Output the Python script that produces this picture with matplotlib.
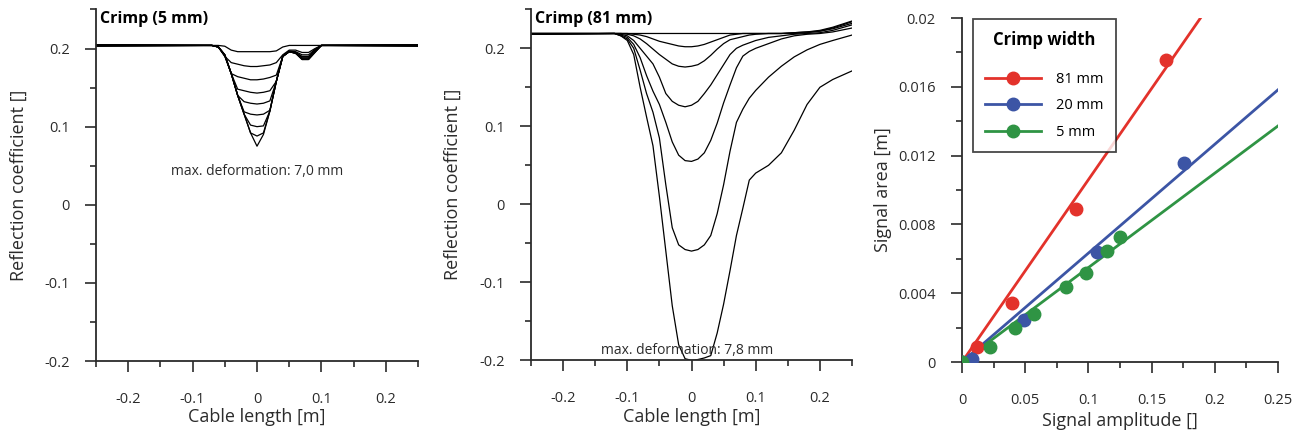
import matplotlib
matplotlib.use("Agg")
import matplotlib.pyplot as plt
from matplotlib.ticker import MultipleLocator, FuncFormatter

plt.rcParams['font.family'] = ['Open Sans', 'DejaVu Sans']
plt.rcParams['axes.unicode_minus'] = False

# --- crimp 5 mm: reflection traces, one row per deformation step ---
x_5mm = [-0.25, -0.07, -0.06, -0.05, -0.04, -0.03, -0.02, -0.01, 0.0, 0.01,
         0.02, 0.03, 0.04, 0.05, 0.06, 0.07, 0.08, 0.09, 0.10, 0.25]
r_5mm = [
    [0.204, 0.204, 0.204, 0.203, 0.198, 0.196, 0.196, 0.196, 0.196, 0.196, 0.196, 0.197, 0.202, 0.204, 0.204, 0.204, 0.204, 0.204, 0.204, 0.204],
    [0.205, 0.204, 0.202, 0.190, 0.182, 0.180, 0.178, 0.177, 0.177, 0.178, 0.179, 0.182, 0.192, 0.198, 0.198, 0.195, 0.195, 0.200, 0.204, 0.205],
    [0.204, 0.204, 0.202, 0.190, 0.168, 0.164, 0.162, 0.160, 0.160, 0.161, 0.163, 0.166, 0.190, 0.197, 0.196, 0.192, 0.192, 0.199, 0.204, 0.204],
    [0.203, 0.204, 0.202, 0.191, 0.168, 0.148, 0.146, 0.144, 0.143, 0.144, 0.146, 0.158, 0.190, 0.196, 0.195, 0.190, 0.190, 0.198, 0.204, 0.203],
    [0.205, 0.204, 0.202, 0.191, 0.168, 0.140, 0.132, 0.130, 0.129, 0.130, 0.133, 0.158, 0.190, 0.196, 0.195, 0.189, 0.189, 0.197, 0.204, 0.205],
    [0.204, 0.204, 0.202, 0.192, 0.168, 0.140, 0.119, 0.116, 0.115, 0.116, 0.121, 0.158, 0.190, 0.196, 0.194, 0.188, 0.188, 0.196, 0.204, 0.204],
    [0.203, 0.204, 0.202, 0.192, 0.168, 0.140, 0.116, 0.102, 0.100, 0.101, 0.120, 0.158, 0.190, 0.196, 0.194, 0.187, 0.187, 0.196, 0.204, 0.203],
    [0.205, 0.204, 0.202, 0.192, 0.168, 0.140, 0.116, 0.092, 0.088, 0.092, 0.120, 0.158, 0.190, 0.196, 0.194, 0.186, 0.186, 0.195, 0.204, 0.205],
    [0.204, 0.204, 0.202, 0.192, 0.168, 0.140, 0.116, 0.092, 0.075, 0.090, 0.120, 0.158, 0.190, 0.196, 0.194, 0.186, 0.186, 0.195, 0.204, 0.204],
]

# --- crimp 81 mm ---
x_81mm = [-0.25, -0.12, -0.11, -0.10, -0.09, -0.08, -0.07, -0.06, -0.05, -0.04,
          -0.03, -0.02, -0.01, 0.0, 0.01, 0.02, 0.03, 0.04, 0.05, 0.06,
          0.07, 0.08, 0.09, 0.10, 0.12, 0.14, 0.16, 0.18, 0.20, 0.22, 0.25]
r_81mm = [
    [0.219, 0.219, 0.219, 0.219, 0.219, 0.219, 0.219, 0.219, 0.219, 0.219,
     0.219, 0.219, 0.219, 0.219, 0.219, 0.219, 0.219, 0.219, 0.219, 0.219,
     0.219, 0.219, 0.219, 0.219, 0.219, 0.219, 0.219, 0.220, 0.222, 0.226, 0.234],
    [0.218, 0.219, 0.219, 0.219, 0.218, 0.217, 0.215, 0.212, 0.209, 0.207,
     0.205, 0.203, 0.202, 0.202, 0.203, 0.205, 0.208, 0.211, 0.214, 0.217,
     0.218, 0.219, 0.219, 0.219, 0.219, 0.219, 0.220, 0.221, 0.223, 0.227, 0.235],
    [0.219, 0.219, 0.219, 0.218, 0.216, 0.212, 0.206, 0.199, 0.192, 0.186,
     0.180, 0.177, 0.176, 0.177, 0.179, 0.184, 0.191, 0.199, 0.206, 0.211,
     0.213, 0.215, 0.217, 0.218, 0.219, 0.219, 0.220, 0.221, 0.222, 0.225, 0.232],
    [0.218, 0.219, 0.218, 0.216, 0.210, 0.200, 0.190, 0.180, 0.163, 0.142,
     0.132, 0.127, 0.125, 0.127, 0.132, 0.142, 0.153, 0.166, 0.179, 0.192,
     0.200, 0.204, 0.207, 0.210, 0.214, 0.216, 0.218, 0.219, 0.220, 0.223, 0.230],
    [0.219, 0.219, 0.217, 0.214, 0.205, 0.188, 0.165, 0.145, 0.128, 0.105,
     0.080, 0.063, 0.056, 0.055, 0.058, 0.066, 0.082, 0.104, 0.130, 0.153,
     0.175, 0.190, 0.196, 0.200, 0.206, 0.212, 0.216, 0.218, 0.219, 0.221, 0.226],
    [0.218, 0.219, 0.216, 0.212, 0.200, 0.172, 0.142, 0.118, 0.085, 0.025,
     -0.030, -0.052, -0.058, -0.060, -0.058, -0.052, -0.040, -0.012, 0.025, 0.068,
     0.105, 0.122, 0.136, 0.146, 0.163, 0.177, 0.189, 0.198, 0.205, 0.210, 0.217],
    [0.219, 0.219, 0.216, 0.210, 0.192, 0.150, 0.112, 0.075, 0.010, -0.060,
     -0.130, -0.180, -0.198, -0.200, -0.199, -0.197, -0.194, -0.165, -0.128, -0.085,
     -0.040, -0.005, 0.031, 0.040, 0.050, 0.066, 0.095, 0.128, 0.150, 0.160, 0.171],
]

# --- signal area vs. amplitude ---
amp_81 = [0.0, 0.0121, 0.0393, 0.090, 0.1614]
area_81 = [0.0, 0.00089, 0.00341, 0.00888, 0.01756]
amp_20 = [0.0, 0.0077, 0.0493, 0.1065, 0.176]
area_20 = [0.0, 0.00016, 0.00244, 0.00638, 0.01155]
amp_5 = [0.0, 0.0222, 0.0419, 0.0572, 0.0823, 0.0979, 0.1145, 0.125]
area_5 = [0.0, 0.00089, 0.00196, 0.00279, 0.00438, 0.00516, 0.00647, 0.00729]
fit_slopes = {'81 mm': 0.106, '20 mm': 0.0633, '5 mm': 0.0549}
fit_x = [0.0, 0.25]

colors = {'81 mm': '#e3322b', '20 mm': '#3c55a5', '5 mm': '#2f9444'}

W, H = 1302, 436
fig = plt.figure(figsize=(W / 100, H / 100), dpi=100)


def px_axes(left, right, top, bottom):
    return fig.add_axes([left / W, 1 - bottom / H, (right - left) / W, (bottom - top) / H])


ax1 = px_axes(96, 418, 9.5, 361)
ax2 = px_axes(531, 852, 9.3, 360.3)
ax3 = px_axes(962, 1278, 18, 362)

ink = '#2b2b2b'
fmt = FuncFormatter(lambda v, pos: f'{v:g}')


def style(ax):
    for s in ('top', 'right'):
        ax.spines[s].set_visible(False)
    for s in ('left', 'bottom'):
        ax.spines[s].set_linewidth(1.3)
        ax.spines[s].set_color(ink)
    ax.tick_params(which='major', direction='out', length=8, width=1.2, color=ink,
                   labelsize=10.5, labelcolor=ink)
    ax.tick_params(which='minor', direction='out', length=4, width=1.2, color=ink)
    ax.tick_params(axis='x', which='major', pad=14)
    ax.tick_params(axis='y', which='major', pad=11)
    ax.xaxis.set_major_formatter(fmt)
    ax.yaxis.set_major_formatter(fmt)


for ax, xs, rows, title, note, note_xy in (
        (ax1, x_5mm, r_5mm, 'Crimp (5 mm)', 'max. deformation: 7,0 mm', (0.0, 0.042)),
        (ax2, x_81mm, r_81mm, 'Crimp (81 mm)', 'max. deformation: 7,8 mm', (-0.007, -0.187))):
    for row in rows:
        ax.plot(xs, row, color='black', lw=0.9)
    ax.set_xlim(-0.25, 0.25)
    ax.set_ylim(-0.2, 0.25)
    ax.xaxis.set_major_locator(MultipleLocator(0.1))
    ax.xaxis.set_minor_locator(MultipleLocator(0.05))
    ax.yaxis.set_major_locator(MultipleLocator(0.1))
    ax.yaxis.set_minor_locator(MultipleLocator(0.05))
    style(ax)
    ax.set_xticks([-0.2, -0.1, 0, 0.1, 0.2])
    ax.set_yticks([-0.2, -0.1, 0, 0.1, 0.2])
    ax.set_xlabel('Cable length [m]', fontsize=13, color=ink)
    ax.set_ylabel('Reflection coefficient []', fontsize=13, color=ink)
    ax.text(0.012, 0.995, title, transform=ax.transAxes, ha='left', va='top',
            fontsize=11.5, fontweight='bold', color='black')
    ax.text(note_xy[0], note_xy[1], note, ha='center', va='center', fontsize=10, color=ink)
    ax.xaxis.set_label_coords(0.5, -0.135)

ax1.yaxis.set_label_coords(-0.211, 0.5)
ax2.yaxis.set_label_coords(-0.215, 0.5)

for label, amp, area in (('81 mm', amp_81, area_81),
                         ('20 mm', amp_20, area_20),
                         ('5 mm', amp_5, area_5)):
    c = colors[label]
    ax3.plot(fit_x, [fit_slopes[label] * v for v in fit_x], color=c, lw=2.0)
    ax3.plot(amp, area, 'o', color=c, markersize=9, zorder=3)

# legend handles show line with a marker in the middle
handles = [plt.Line2D([0], [0], color=colors[k], lw=2.0, marker='o', markersize=9)
           for k in fit_slopes]
leg = ax3.legend(handles, list(fit_slopes), title='Crimp width', loc='upper left',
                 bbox_to_anchor=(0.035, 0.997), borderaxespad=0, fontsize=10.5,
                 handlelength=3.8, handletextpad=1.05, labelspacing=0.8, borderpad=0.85,
                 frameon=True, fancybox=False, edgecolor='#1a1a1a')
leg.get_frame().set_linewidth(1.3)
leg.get_title().set_fontweight('bold')
leg.get_title().set_fontsize(12)
leg._legend_box.sep = 16

ax3.set_xlim(0, 0.25)
ax3.set_ylim(0, 0.02)
ax3.xaxis.set_major_locator(MultipleLocator(0.05))
ax3.xaxis.set_minor_locator(MultipleLocator(0.025))
ax3.yaxis.set_major_locator(MultipleLocator(0.004))
ax3.yaxis.set_minor_locator(MultipleLocator(0.002))
style(ax3)
ax3.set_xlabel('Signal amplitude []', fontsize=13, color=ink)
ax3.set_ylabel('Signal area [m]', fontsize=13, color=ink)
ax3.xaxis.set_label_coords(0.5, -0.145)
ax3.yaxis.set_label_coords(-0.222, 0.5)

fig.savefig('out.png', dpi=100)
